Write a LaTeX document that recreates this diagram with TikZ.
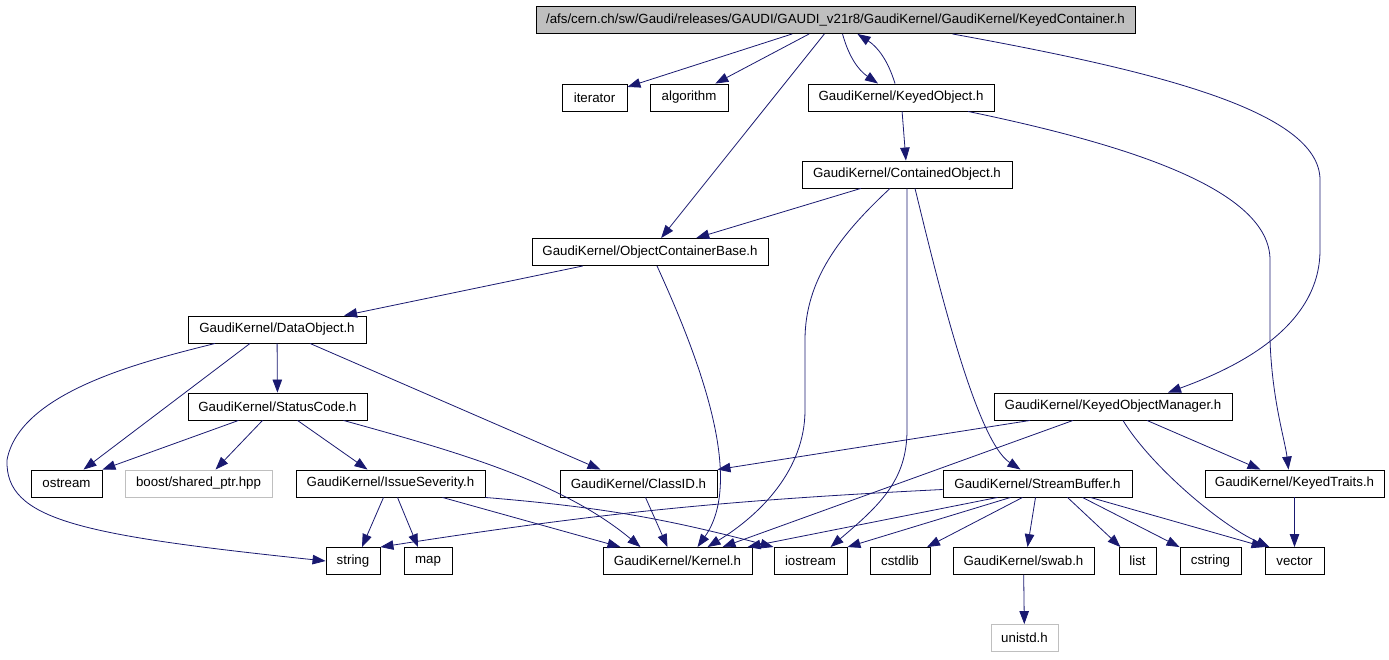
\documentclass[tikz,border=0pt]{standalone}
\usepackage{fontspec}
\setmainfont{Liberation Sans}
\usepackage{tikz}
\usetikzlibrary{arrows.meta}
\definecolor{edgec}{HTML}{191970}
\definecolor{lightb}{HTML}{BFBFBF}
\tikzset{
  hdr/.style={draw=black,line width=0.9pt,minimum height=27pt,inner sep=2pt,font=\fontsize{13.3}{15}\selectfont},
  extbox/.style={hdr,draw=lightb},
  rootbox/.style={hdr,fill=lightb},
  dep/.style={-{Triangle[length=13pt,width=9.5pt]},edgec,line width=0.8pt}
}

\begin{document}
\begin{tikzpicture}[x=1pt,y=-1pt]
\useasboundingbox (0,0) rectangle (1389,659);
\node[rootbox,minimum width=599pt] (root) at (835.5,20) {/afs/cern.ch/sw/Gaudi/releases/GAUDI/GAUDI\_v21r8/GaudiKernel/GaudiKernel/KeyedContainer.h};
\node[hdr,minimum width=65pt] (iter) at (594.5,97.5) {iterator};
\node[hdr,minimum width=78pt] (algo) at (689,97.5) {algorithm};
\node[hdr,minimum width=186pt] (ko) at (901,97.5) {GaudiKernel/KeyedObject.h};
\node[hdr,minimum width=210pt] (co) at (907,174.5) {GaudiKernel/ContainedObject.h};
\node[hdr,minimum width=236pt] (ocb) at (650,252) {GaudiKernel/ObjectContainerBase.h};
\node[hdr,minimum width=178pt] (do) at (277,329.5) {GaudiKernel/DataObject.h};
\node[hdr,minimum width=179pt] (sc) at (277.5,406.5) {GaudiKernel/StatusCode.h};
\node[hdr,minimum width=238pt] (kom) at (1113,406.5) {GaudiKernel/KeyedObjectManager.h};
\node[hdr,minimum width=71pt] (ostream) at (66.5,483.5) {ostream};
\node[extbox,minimum width=147pt] (boost) at (198.5,483.5) {boost/shared\_ptr.hpp};
\node[hdr,minimum width=189pt] (is) at (390.5,483.5) {GaudiKernel/IssueSeverity.h};
\node[hdr,minimum width=157pt] (classid) at (638.5,483.5) {GaudiKernel/ClassID.h};
\node[hdr,minimum width=189pt] (sb) at (1037.5,483.5) {GaudiKernel/StreamBuffer.h};
\node[hdr,minimum width=179pt] (kt) at (1294.5,483.5) {GaudiKernel/KeyedTraits.h};
\node[hdr,minimum width=54pt] (string) at (353,561) {string};
\node[hdr,minimum width=48pt] (map) at (428,561) {map};
\node[hdr,minimum width=149pt] (kernel) at (677.5,561) {GaudiKernel/Kernel.h};
\node[hdr,minimum width=73pt] (iostream) at (810.5,561) {iostream};
\node[hdr,minimum width=60pt] (cstdlib) at (900,561) {cstdlib};
\node[hdr,minimum width=141pt] (swab) at (1023.5,561) {GaudiKernel/swab.h};
\node[hdr,minimum width=37pt] (list) at (1137.5,561) {list};
\node[hdr,minimum width=61pt] (cstring) at (1210.5,561) {cstring};
\node[hdr,minimum width=59pt] (vector) at (1294.5,561) {vector};
\node[extbox,minimum width=67pt] (unistd) at (1024.5,638) {unistd.h};

\draw[dep] (root) -- (iter);
\draw[dep] (root) -- (algo);
\draw[dep] (root) -- (ocb);
\draw[dep] ([xshift=7pt]root.south) to[bend right=20] ([xshift=-23pt]ko.north);
\draw[dep] ([xshift=-6pt]ko.north) to[bend right=20] ([xshift=22pt]root.south);
\draw[dep] ([xshift=117pt]root.south) .. controls (1150,70) and (1320,110) .. (1320,180) -- (1320,250) .. controls (1320,330) and (1230,370) .. ([xshift=55pt]kom.north);
\draw[dep] (ko) -- (co);
\draw[dep] ([xshift=67pt]ko.south) .. controls (1130,145) and (1270,190) .. (1270,260) -- (1270,340) .. controls (1272,400) and (1285,440) .. ([xshift=-6pt]kt.north);
\draw[dep] (co) -- (ocb);
\draw[dep] ([xshift=-17pt]co.south) .. controls (840,235) and (805,280) .. (805,340) -- (805,410) .. controls (805,470) and (760,515) .. ([xshift=30pt]kernel.north);
\draw[dep] (co.south) -- (907,430) .. controls (907,480) and (880,505) .. ([xshift=20pt]iostream.north);
\draw[dep] ([xshift=8pt]co.south) .. controls (935,270) and (975,440) .. ([xshift=-17pt]sb.north);
\draw[dep] (ocb) -- (do);
\draw[dep] ([xshift=7pt]ocb.south) .. controls (700,360) and (745,480) .. ([xshift=20pt]kernel.north);
\draw[dep] ([xshift=-62pt]do.south) .. controls (150,360) and (20,390) .. (7,460) .. controls (5,520) and (80,535) .. (string.west);
\draw[dep] ([xshift=-27pt]do.south) -- ([xshift=17pt]ostream.north);
\draw[dep] (do) -- (sc);
\draw[dep] ([xshift=33pt]do.south) -- ([xshift=-38pt]classid.north);
\draw[dep] ([xshift=-39pt]sc.south) -- (ostream.north east);
\draw[dep] ([xshift=-15pt]sc.south) -- ([xshift=17pt]boost.north);
\draw[dep] ([xshift=20pt]sc.south) -- ([xshift=-23pt]is.north);
\draw[dep] ([xshift=66pt]sc.south) .. controls (450,450) and (560,480) .. ([xshift=-37pt]kernel.north);
\draw[dep] ([xshift=-7pt]is.south) -- ([xshift=9pt]string.north);
\draw[dep] ([xshift=7pt]is.south) -- ([xshift=-10pt]map.north);
\draw[dep] ([xshift=52pt]is.south) -- ([xshift=-57pt]kernel.north);
\draw[dep] (is.south east) to[bend left=5] (iostream.north west);
\draw[dep] ([xshift=7pt]classid.south) -- ([xshift=-10pt]kernel.north);
\draw[dep] ([xshift=-83pt]kom.south) -- (classid.north east);
\draw[dep] ([xshift=-40pt]kom.south) -- ([xshift=45pt]kernel.north);
\draw[dep] ([xshift=34pt]kom.south) -- ([xshift=-34pt]kt.north);
\draw[dep] ([xshift=10pt]kom.south) .. controls (1150,465) and (1220,525) .. ([xshift=-25pt]vector.north);
\draw[dep] ([yshift=-6pt]sb.west) to[bend right=3] (string.north east);
\draw[dep] ([xshift=-40pt]sb.south) -- ([xshift=70pt]kernel.north);
\draw[dep] ([xshift=-27pt]sb.south) -- (iostream.north east);
\draw[dep] ([xshift=-15pt]sb.south) -- ([xshift=27pt]cstdlib.north);
\draw[dep] ([xshift=-2pt]sb.south) -- ([xshift=4pt]swab.north);
\draw[dep] ([xshift=30pt]sb.south) -- ([xshift=-17pt]list.north);
\draw[dep] ([xshift=45pt]sb.south) -- (cstring.north west);
\draw[dep] ([xshift=53pt]sb.south) -- (vector.north west);
\draw[dep] (kt) -- (vector);
\draw[dep] (swab) -- (unistd);
\end{tikzpicture}
\end{document}
